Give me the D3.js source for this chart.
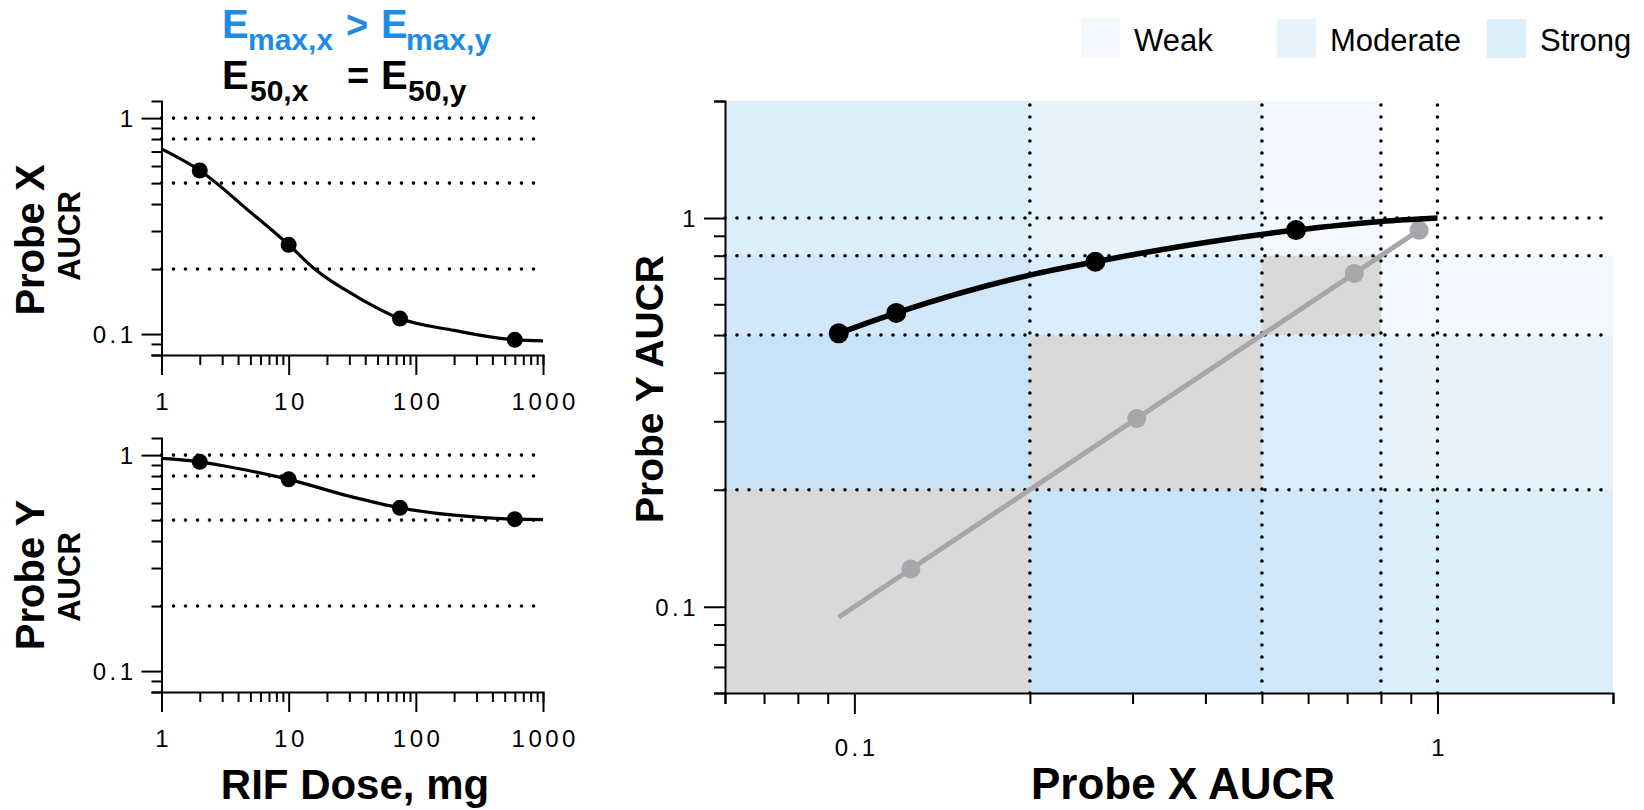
<!DOCTYPE html>
<html>
<head>
<meta charset="utf-8">
<script src="https://cdn.jsdelivr.net/npm/d3@7"></script>
<style>
  body { margin: 0; background: white; }
  svg { display: block; font-family: "Liberation Sans", Arial, Helvetica, sans-serif; }
</style>
</head>
<body>
<div id="chart"></div>
<script>
// measured points (RIF dose, mg -> AUCR of each probe)
const doses = [2, 10, 75, 600];
const probeXAucr = [0.572, 0.259, 0.118, 0.094];
const probeYAucr = [0.931, 0.772, 0.570, 0.505];

// fitted curves
const curveDosesX = [1, 2, 5, 10, 16, 35, 75, 200, 600, 1000];
const curveProbeX = [0.72, 0.572, 0.367, 0.259, 0.200, 0.148, 0.118, 0.104, 0.094, 0.093];
const curveDosesY = [1, 2, 4, 10, 30, 75, 200, 600, 1000];
const curveProbeY = [0.965, 0.931, 0.867, 0.772, 0.645, 0.570, 0.527, 0.505, 0.503];

// probe X vs probe Y curve
const pairCurveX = [0.094, 0.118, 0.2, 0.259, 0.4, 0.572, 0.8, 1];
const pairCurveY = [0.505, 0.570, 0.713, 0.772, 0.865, 0.931, 0.98, 1];

// identity reference (grey)
const identityLine = [0.094, 0.93];
const identityPoints = [0.125, 0.305, 0.72, 0.93];

// interaction categories
const categories = ['Weak', 'Moderate', 'Strong'];
const categoryLow = [0.5, 0.2, 0.06];
const categoryHigh = [0.8, 0.5, 0.2];
const categoryAlpha = [0.06, 0.105, 0.15];
const cutoffs = [0.2, 0.5, 0.8, 1];

const width = 1644, height = 810;
const blue = 'rgb(30,140,230)';
const isMajor = d => Math.abs(Math.log10(d) - Math.round(Math.log10(d))) < 1e-9;

let svg = d3.select('#chart')
    .append('svg')
    .attr('width', width)
    .attr('height', height);

// scales
let xDose = d3.scaleLog().domain([1, 1000]).range([161.5, 543]);
let yTop = d3.scaleLog().domain([0.08, 1.2]).range([355, 101]);
let yBottom = d3.scaleLog().domain([0.08, 1.2]).range([692, 438]);
let xR = d3.scaleLog().domain([0.06, 2]).range([725, 1613]);
let yR = d3.scaleLog().domain([0.06, 2]).range([693, 101]);

function dotted(g, x1, y1, x2, y2) {
    g.append('line')
        .attr('x1', x1).attr('y1', y1).attr('x2', x2).attr('y2', y2)
        .attr('stroke', 'black')
        .attr('stroke-width', 3.6)
        .attr('stroke-linecap', 'round')
        .attr('stroke-dasharray', '0 12');
}

function styleTicks(ag) {
    ag.select('.domain').attr('stroke-width', 2);
    ag.selectAll('.tick line').attr('stroke-width', 2);
    ag.selectAll('.tick text')
        .attr('fill', 'black')
        .style('font-size', '24px')
        .style('letter-spacing', '3.5px');
}

function leftAxis(scale, x, big, small) {
    let axis = d3.axisLeft(scale)
        .tickValues(scale.ticks())
        .tickSizeOuter(0)
        .tickSize(small)
        .tickFormat(d => isMajor(d) ? String(d) : '');
    let ag = svg.append('g').attr('transform', `translate(${x},0)`).call(axis);
    styleTicks(ag);
    ag.selectAll('.tick line').attr('x2', d => isMajor(d) ? -big : -small);
    ag.selectAll('.tick text').attr('x', -big - 5).attr('dy', '0.36em');
    return ag;
}

function bottomAxis(scale, y, big, small, labelY) {
    let axis = d3.axisBottom(scale)
        .tickValues(scale.ticks())
        .tickSizeOuter(0)
        .tickSize(small)
        .tickFormat(d => isMajor(d) ? String(d) : '');
    let ag = svg.append('g').attr('transform', `translate(0,${y})`).call(axis);
    styleTicks(ag);
    ag.selectAll('.tick line').attr('y2', d => isMajor(d) ? big : small);
    ag.selectAll('.tick text').attr('y', labelY).attr('dy', 0).attr('dx', 1.75);
    return ag;
}

// ---------- left panels ----------
function dosePanel(yScale, curveDoses, curveVals, pointVals) {
    let g = svg.append('g');
    [1, 0.8, 0.5, 0.2].forEach(v => dotted(g, xDose.range()[0], yScale(v), xDose.range()[1], yScale(v)));

    leftAxis(yScale, xDose.range()[0], 20, 10);
    bottomAxis(xDose, yScale.range()[0], 20, 10, 55);

    let line = d3.line()
        .x(d => xDose(d[0]))
        .y(d => yScale(d[1]))
        .curve(d3.curveMonotoneX);

    svg.append('path')
        .datum(d3.zip(curveDoses, curveVals))
        .attr('d', line)
        .attr('fill', 'none')
        .attr('stroke', 'black')
        .attr('stroke-width', 3.2);

    svg.append('g').selectAll('circle')
        .data(d3.zip(doses, pointVals))
        .enter().append('circle')
        .attr('cx', d => xDose(d[0]))
        .attr('cy', d => yScale(d[1]))
        .attr('r', 8)
        .attr('fill', 'black');
}

dosePanel(yTop, curveDosesX, curveProbeX, probeXAucr);
dosePanel(yBottom, curveDosesY, curveProbeY, probeYAucr);

// panel labels
function vLabel(text, x, y, size) {
    svg.append('text')
        .attr('transform', `translate(${x},${y}) rotate(-90)`)
        .attr('text-anchor', 'middle')
        .attr('font-weight', 'bold')
        .style('font-size', size + 'px')
        .text(text);
}
vLabel('Probe X', 44, 240, 40);
vLabel('AUCR', 80, 236, 31);
vLabel('Probe Y', 44, 575, 40);
vLabel('AUCR', 80, 577, 31);

svg.append('text')
    .attr('x', 355).attr('y', 799)
    .attr('text-anchor', 'middle')
    .attr('font-weight', 'bold')
    .style('font-size', '42px')
    .text('RIF Dose, mg');

// title with subscripts
function titlePart(text, x, y, size, color, anchor) {
    svg.append('text')
        .attr('x', x).attr('y', y)
        .attr('text-anchor', anchor || 'start')
        .attr('font-weight', 'bold')
        .attr('fill', color)
        .style('font-size', size + 'px')
        .text(text);
}
titlePart('E', 222, 38, 40, blue);
titlePart('max,x', 248, 50, 30, blue);
titlePart('>', 357, 38, 38, blue, 'middle');
titlePart('E', 381, 38, 40, blue);
titlePart('max,y', 406, 50, 30, blue);
titlePart('E', 222, 89, 40, 'black');
titlePart('50,x', 250, 101, 30, 'black');
titlePart('=', 358, 89, 38, 'black', 'middle');
titlePart('E', 381, 89, 40, 'black');
titlePart('50,y', 408, 101, 30, 'black');

// ---------- right panel ----------
let bg = svg.append('g');
let [x0, x1] = xR.range();
let [y0, y1] = yR.range();

// category bands along x and along y, translucent so they add up
categories.forEach((c, i) => {
    bg.append('rect')
        .attr('x', xR(categoryLow[i])).attr('width', xR(categoryHigh[i]) - xR(categoryLow[i]))
        .attr('y', y1).attr('height', y0 - y1)
        .attr('fill', blue).attr('fill-opacity', categoryAlpha[i]);
    bg.append('rect')
        .attr('x', x0).attr('width', x1 - x0)
        .attr('y', yR(categoryHigh[i])).attr('height', yR(categoryLow[i]) - yR(categoryHigh[i]))
        .attr('fill', blue).attr('fill-opacity', categoryAlpha[i]);
});
// same category for both probes
categories.forEach((c, i) => {
    bg.append('rect')
        .attr('x', xR(categoryLow[i])).attr('width', xR(categoryHigh[i]) - xR(categoryLow[i]))
        .attr('y', yR(categoryHigh[i])).attr('height', yR(categoryLow[i]) - yR(categoryHigh[i]))
        .attr('fill', '#d9d9d9');
});

cutoffs.forEach(v => {
    dotted(bg, xR(v), y0, xR(v), y1);
    dotted(bg, x0, yR(v), x1, yR(v));
});

leftAxis(yR, x0, 21, 11);
bottomAxis(xR, y0, 21, 11, 63);

// identity line
svg.append('line')
    .attr('x1', xR(identityLine[0])).attr('y1', yR(identityLine[0]))
    .attr('x2', xR(identityLine[1])).attr('y2', yR(identityLine[1]))
    .attr('stroke', '#a6a6ab')
    .attr('stroke-width', 5);

svg.append('g').selectAll('circle')
    .data(identityPoints)
    .enter().append('circle')
    .attr('cx', d => xR(d))
    .attr('cy', d => yR(d))
    .attr('r', 9.5)
    .attr('fill', '#a6a6ab');

let pairLine = d3.line()
    .x(d => xR(d[0]))
    .y(d => yR(d[1]))
    .curve(d3.curveMonotoneX);

svg.append('path')
    .datum(d3.zip(pairCurveX, pairCurveY))
    .attr('d', pairLine)
    .attr('fill', 'none')
    .attr('stroke', 'black')
    .attr('stroke-width', 5.5);

svg.append('g').selectAll('circle')
    .data(d3.zip(probeXAucr, probeYAucr))
    .enter().append('circle')
    .attr('cx', d => xR(d[0]))
    .attr('cy', d => yR(d[1]))
    .attr('r', 10)
    .attr('fill', 'black');

vLabel('Probe Y AUCR', 663, 389, 39);
svg.append('text')
    .attr('x', 1183).attr('y', 799)
    .attr('text-anchor', 'middle')
    .attr('font-weight', 'bold')
    .style('font-size', '44px')
    .text('Probe X AUCR');

// legend
let legendX = d3.scaleOrdinal().domain(categories).range([1081, 1277, 1487]);
let legend = svg.append('g');
categories.forEach((c, i) => {
    legend.append('rect')
        .attr('x', legendX(c)).attr('y', 19)
        .attr('width', 39).attr('height', 39)
        .attr('fill', blue).attr('fill-opacity', categoryAlpha[i]);
    legend.append('text')
        .attr('x', legendX(c) + 53).attr('y', 51)
        .style('font-size', '31px')
        .text(c);
});
</script>
</body>
</html>
